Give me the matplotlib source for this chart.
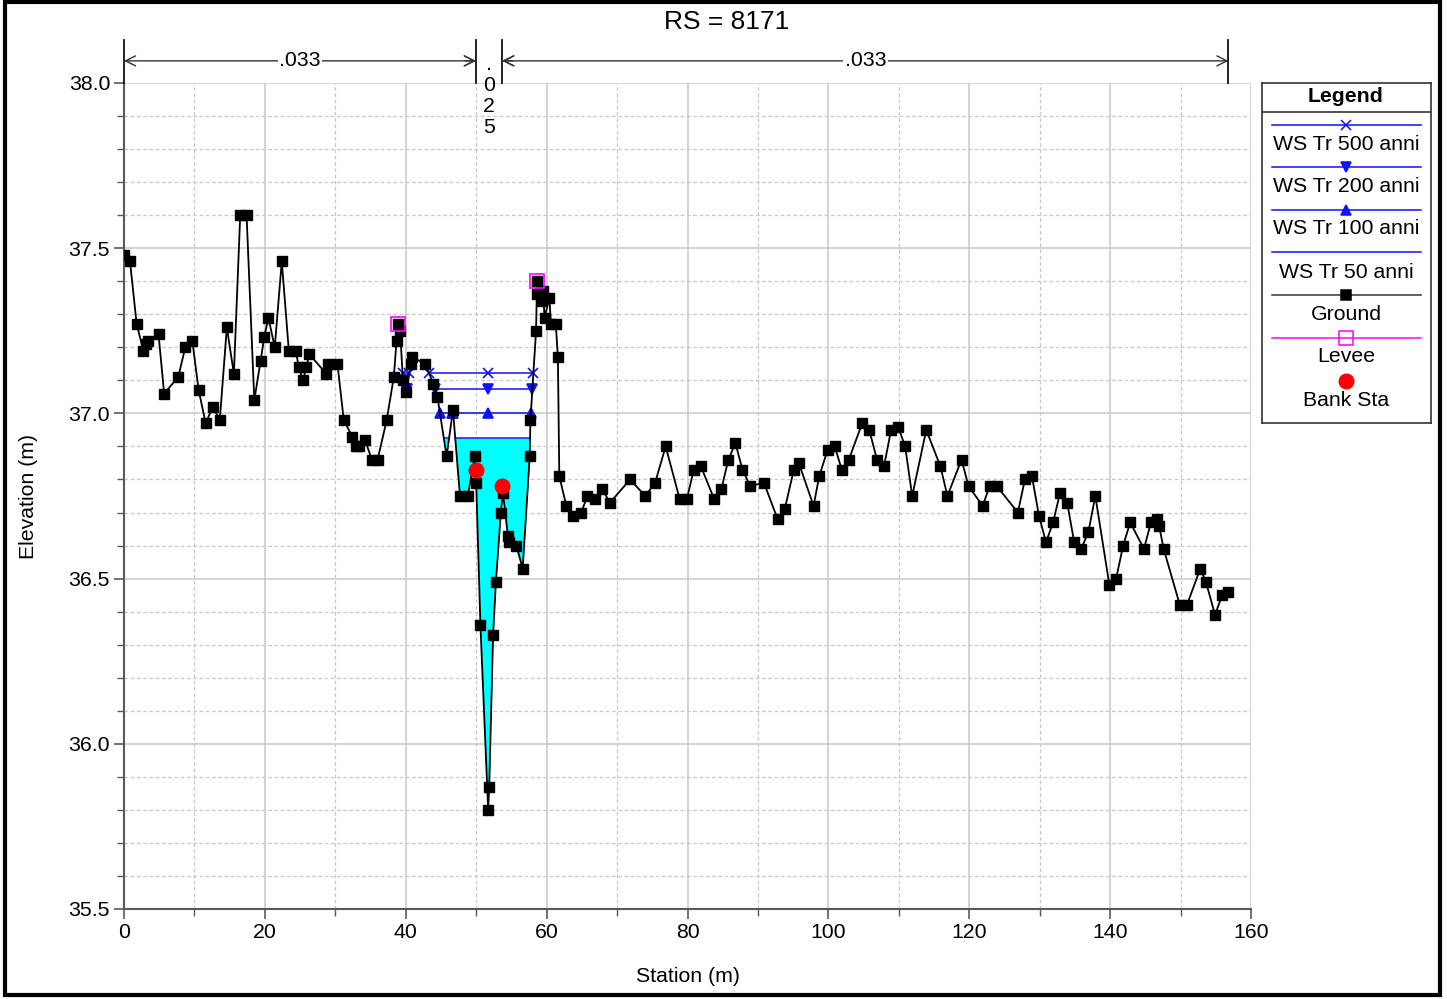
import numpy as np
import matplotlib
matplotlib.use("Agg")
import matplotlib.pyplot as plt
from matplotlib.ticker import MultipleLocator
from matplotlib.patches import Rectangle

plt.rcParams['font.family'] = ['Liberation Sans', 'DejaVu Sans']

# ---------------- data ----------------
title = "RS = 8171"
station = [0.05, 0.85, 1.8, 2.75, 3.1, 3.35, 4.9, 5.7, 7.7, 8.7, 9.7, 10.6, 11.6, 12.6, 13.6,
           14.6, 15.6, 16.5, 17.4, 18.5, 19.4, 19.9, 20.5, 21.4, 22.4, 23.4, 24.4, 24.8, 25.4,
           25.9, 26.3, 28.7, 28.9, 30.3, 31.2, 32.4, 32.9, 33.4, 34.2, 35.2, 36.0, 37.3, 38.3,
           38.7, 38.9, 39.2, 39.6, 40.1, 40.7, 40.9, 42.8, 43.9, 44.5, 45.8, 46.7, 47.7, 48.8,
           49.8, 50.0, 50.6, 51.7, 51.85, 52.4, 52.8, 53.5, 53.8, 54.5, 54.7, 55.7, 56.6, 57.6,
           57.7, 58.5, 58.6, 58.7, 59.0, 59.3, 59.5, 59.7, 60.4, 60.6, 61.3, 61.6, 61.8, 62.8,
           63.8, 64.9, 65.8, 66.9, 67.9, 69.0, 71.85, 74.0, 75.4, 76.9, 78.9, 79.9, 80.9, 81.9,
           83.8, 84.8, 85.8, 86.8, 87.8, 88.9, 90.85, 92.8, 93.8, 95.1, 95.8, 97.9, 98.7, 99.9,
           100.9, 101.9, 102.9, 104.8, 105.8, 106.9, 107.9, 108.9, 109.9, 110.9, 111.9, 113.9,
           115.9, 116.9, 118.9, 119.9, 121.9, 122.9, 123.9, 126.9, 127.9, 128.9, 129.9, 130.9,
           131.9, 132.9, 133.9, 134.9, 135.9, 136.9, 137.9, 139.9, 140.85, 141.85, 142.85,
           144.8, 145.8, 146.7, 146.95, 147.6, 149.9, 150.9, 152.8, 153.6, 154.9, 155.9, 156.8]
elevation = [37.48, 37.46, 37.27, 37.19, 37.21, 37.22, 37.24, 37.06, 37.11, 37.20, 37.22, 37.07,
             36.97, 37.02, 36.98, 37.26, 37.12, 37.60, 37.60, 37.04, 37.16, 37.23, 37.29, 37.20,
             37.46, 37.19, 37.19, 37.14, 37.10, 37.14, 37.18, 37.12, 37.15, 37.15, 36.98, 36.93,
             36.90, 36.90, 36.92, 36.86, 36.86, 36.98, 37.11, 37.22, 37.27, 37.25, 37.10, 37.065,
             37.15, 37.17, 37.15, 37.09, 37.05, 36.87, 37.01, 36.75, 36.75, 36.87, 36.79, 36.36,
             35.80, 35.87, 36.33, 36.49, 36.70, 36.76, 36.63, 36.61, 36.60, 36.53, 36.87, 36.98,
             37.25, 37.36, 37.40, 37.36, 37.34, 37.37, 37.29, 37.35, 37.27, 37.27, 37.17, 36.81,
             36.72, 36.69, 36.70, 36.75, 36.74, 36.77, 36.73, 36.80, 36.75, 36.79, 36.90, 36.74,
             36.74, 36.83, 36.84, 36.74, 36.77, 36.86, 36.91, 36.83, 36.78, 36.79, 36.68, 36.71,
             36.83, 36.85, 36.72, 36.81, 36.89, 36.90, 36.83, 36.86, 36.97, 36.95, 36.86, 36.84,
             36.95, 36.96, 36.90, 36.75, 36.95, 36.84, 36.75, 36.86, 36.78, 36.72, 36.78, 36.78,
             36.70, 36.80, 36.81, 36.69, 36.61, 36.67, 36.76, 36.73, 36.61, 36.59, 36.64, 36.75,
             36.48, 36.50, 36.60, 36.67, 36.59, 36.67, 36.68, 36.66, 36.59, 36.42, 36.42, 36.53,
             36.49, 36.39, 36.45, 36.46]

levee_sta = [38.9, 58.7]
levee_elev = [37.27, 37.40]
bank_sta = [49.95, 53.7]
bank_elev = [36.83, 36.78]

ws_labels = ["WS Tr 500 anni", "WS Tr 200 anni", "WS Tr 100 anni", "WS Tr 50 anni"]
ws_elev = [37.123, 37.074, 37.000, 36.925]
ws_markers = ['x', 'v', '^', None]

n_values = [".033", ".025", ".033"]

# ---------------- helpers ----------------
x = np.array(station, dtype=float)
z = np.array(elevation, dtype=float)


def wet_segments(ws, xl, xr):
    segs = []
    i0 = int(np.searchsorted(x, xl))
    i1 = int(np.searchsorted(x, xr))
    start = None
    for i in range(i0, i1):
        xa, za, xb, zb = x[i], z[i], x[i + 1], z[i + 1]
        if start is None and za < ws:
            start = xa
        if (za - ws) * (zb - ws) < 0:
            xc = xa + (ws - za) * (xb - xa) / (zb - za)
            if za >= ws:
                start = xc
            else:
                segs.append((start, xc))
                start = None
    if start is not None:
        segs.append((start, x[i1]))
    return segs


# ---------------- figure ----------------
W, H = 1447, 999
fig = plt.figure(figsize=(W / 100, H / 100), dpi=100)
ax = fig.add_axes([124 / W, 1 - 909 / H, (1251 - 124) / W, (909 - 83) / H])

ax.set_xlim(0, 160)
ax.set_ylim(35.5, 38.0)
ax.xaxis.set_major_locator(MultipleLocator(20))
ax.xaxis.set_minor_locator(MultipleLocator(10))
ax.yaxis.set_major_locator(MultipleLocator(0.5))
ax.yaxis.set_minor_locator(MultipleLocator(0.1))
ax.yaxis.set_major_formatter(matplotlib.ticker.FormatStrFormatter('%.1f'))
ax.grid(which='major', color='#c8c8c8', lw=1.1, ls='-')
ax.grid(which='minor', color='#c8c8c8', lw=0.9, ls=(0, (3, 2)))
ax.set_axisbelow(True)
for s in ['top', 'right']:
    ax.spines[s].set_visible(False)
for s in ['left', 'bottom']:
    ax.spines[s].set_color('#5a5a5a')
    ax.spines[s].set_linewidth(1.5)
ax.tick_params(which='major', length=7, width=1.2, color='#5a5a5a', labelsize=15.3, pad=3)
ax.tick_params(which='minor', length=5, width=1.0, color='#5a5a5a')
ax.set_xlabel("Station (m)", fontsize=15.3, labelpad=18)
ax.set_ylabel("Elevation (m)", fontsize=15.3, labelpad=22)
fig.text(727 / W, 1 - 22 / H, title, ha='center', va='center', fontsize=19)

wscolor = '#1010ff'
thalweg = x[np.argmin(z)]
for lab, ws, mk in zip(ws_labels, ws_elev, ws_markers):
    segs = wet_segments(ws, levee_sta[0], levee_sta[1])
    for (s, e) in segs:
        if mk is None:
            pts = np.concatenate([[s], x[(x > s) & (x < e)], [e]])
            ax.fill_between(pts, np.interp(pts, x, z), ws, color='#00ffff', lw=0, zorder=2)
        ax.plot([s, e], [ws, ws], color=wscolor, lw=1.1, zorder=3)
        if mk is not None:
            mx = [s, e]
            if s < thalweg < e:
                mx.append(thalweg)
            ax.plot(mx, [ws] * len(mx), ls='none', marker=mk, color=wscolor,
                    ms=7, mew=1.2, zorder=4)

ax.plot(x, z, color='black', lw=1.3, marker='s', ms=6.5, mfc='black', mec='black', zorder=5)
ax.plot(levee_sta, levee_elev, ls='none', marker='s', ms=10, mfc='none', mec='#ff00ff',
        mew=1.2, zorder=6)
ax.plot(bank_sta, bank_elev, ls='none', marker='o', ms=10.5, color='#ff0000', zorder=7)

# Manning's n annotations
bounds = [x[0] - 0.05, bank_sta[0], bank_sta[1], x[-1]]
ytop, yarr = 38.13, 38.067
for b in bounds:
    ax.plot([b, b], [38.0, ytop], color='#111111', lw=1.3, clip_on=False, zorder=8)
for i, nv in enumerate(n_values):
    a, b = bounds[i], bounds[i + 1]
    if b - a > 10:
        ax.annotate('', xy=(a, yarr), xytext=(b, yarr), annotation_clip=False,
                    arrowprops=dict(arrowstyle='<->', color='#333333', lw=1.0,
                                    shrinkA=0, shrinkB=0, mutation_scale=18))
        ax.text((a + b) / 2, yarr, nv, ha='center', va='center', fontsize=15.3,
                bbox=dict(facecolor='white', edgecolor='none', pad=1), zorder=9, clip_on=False)
    else:
        ax.annotate('', xy=(a, yarr), xytext=(a - 1.5, yarr), annotation_clip=False,
                    arrowprops=dict(arrowstyle='->', color='#333333', lw=1.0,
                                    shrinkA=0, shrinkB=0, mutation_scale=18))
        ax.annotate('', xy=(b, yarr), xytext=(b + 1.5, yarr), annotation_clip=False,
                    arrowprops=dict(arrowstyle='->', color='#333333', lw=1.0,
                                    shrinkA=0, shrinkB=0, mutation_scale=18))
        ax.text((a + b) / 2, 38.085, "\n".join(nv), ha='center', va='top', fontsize=15.3,
                linespacing=1.13, zorder=9, clip_on=False)

# ---------------- legend ----------------
lx0, lx1, ly0, ly1 = 1262, 1431, 83, 423
lax = fig.add_axes([lx0 / W, 1 - ly1 / H, (lx1 - lx0) / W, (ly1 - ly0) / H])
lax.set_xlim(0, lx1 - lx0)
lax.set_ylim(ly1 - ly0, 0)
lax.set_xticks([])
lax.set_yticks([])
for s in lax.spines.values():
    s.set_color('#333333')
    s.set_linewidth(1.2)
lax.text(84, 13, "Legend", ha='center', va='center', fontsize=15.3, fontweight='bold')
lax.plot([0, 169], [29, 29], color='#333333', lw=1.2)
cx = 84
entries = [
    (ws_labels[0], 42, 61, wscolor, 'x', wscolor, wscolor),
    (ws_labels[1], 84, 103, wscolor, 'v', wscolor, wscolor),
    (ws_labels[2], 127, 146, wscolor, '^', wscolor, wscolor),
    (ws_labels[3], 169, 189, wscolor, None, None, None),
    ("Ground", 212, 231, '#333333', 's', 'black', 'black'),
    ("Levee", 255, 274, '#ff00ff', 's', 'none', '#ff00ff'),
]
for lab, yl, yt, lc, mk, mfc, mec in entries:
    lax.plot([10, 159], [yl, yl], color=lc, lw=1.1)
    if mk is not None:
        ms = 10 if lab == "Levee" else 6.5
        lax.plot([cx], [yl], marker=mk, ms=ms, mfc=mfc, mec=mec, mew=1.1, ls='none')
    lax.text(cx, yt, lab, ha='center', va='center', fontsize=15.3)
lax.plot([cx], [298], marker='o', ms=10.5, color='#ff0000', ls='none')
lax.text(cx, 317, "Bank Sta", ha='center', va='center', fontsize=15.3)

# outer frame
fig.patches.append(Rectangle((5 / W, 4 / H), (1440 - 5) / W, (997 - 4) / H,
                             transform=fig.transFigure, fill=False, edgecolor='black', lw=3))

fig.savefig("out.png", dpi=100)
